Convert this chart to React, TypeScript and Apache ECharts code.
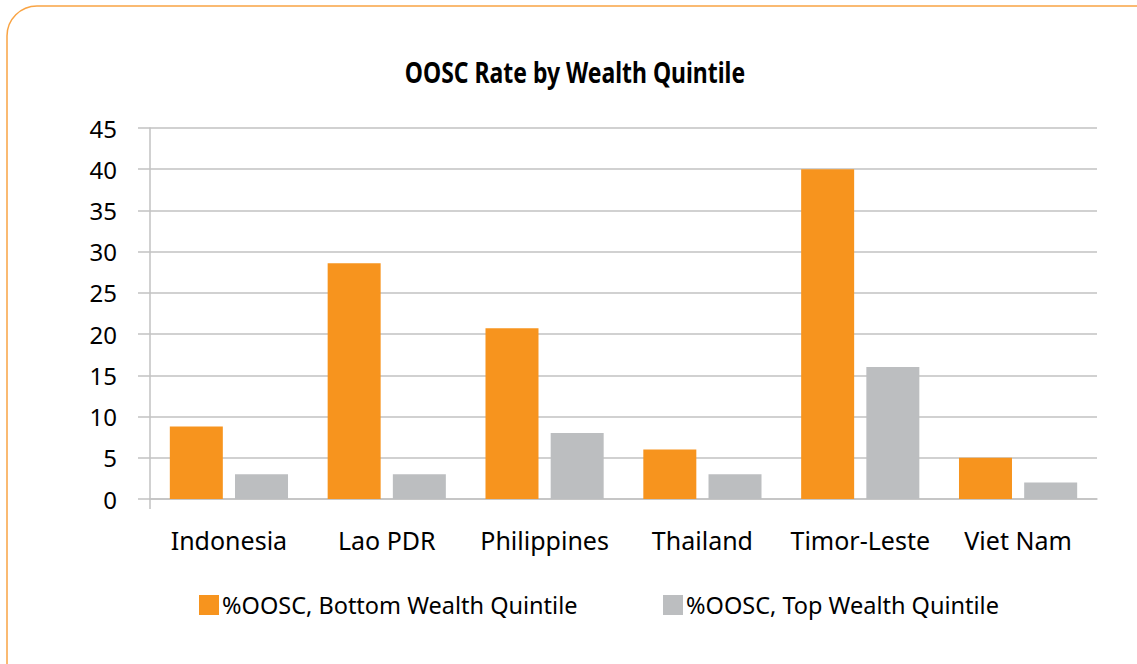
import React, { useEffect, useRef } from "react";
import * as echarts from "echarts";

const categories = ["Indonesia", "Lao PDR", "Philippines", "Thailand", "Timor-Leste", "Viet Nam"];
const bottomQuintile = [8.8, 28.6, 20.7, 6, 40, 5];
const topQuintile = [3, 3, 8, 3, 16, 2];
const seriesNames = ["%OOSC, Bottom Wealth Quintile", "%OOSC, Top Wealth Quintile"];
const titleText = "OOSC Rate by Wealth Quintile";

const ORANGE = "#F7941E";
const GRAY = "#BCBEC0";
const GRID = "#C2C2C2";
const FONT = "'Noto Sans', 'Open Sans', sans-serif";

export default function App() {
  const ref = useRef<HTMLDivElement>(null);
  useEffect(() => {
    if (!ref.current) return;
    const chart = echarts.init(ref.current, null, { renderer: "svg" });
    chart.setOption({
      animation: false,
      backgroundColor: "#ffffff",
      graphic: [
        {
          type: "rect",
          shape: { x: 7, y: 6, width: 1160, height: 720, r: 30 },
          style: { fill: "none", stroke: "#F9A444", lineWidth: 1.5 },
          silent: true,
        },
        {
          type: "line",
          shape: { x1: 150, y1: 499, x2: 150, y2: 509 },
          style: { stroke: GRID, lineWidth: 1.5 },
          silent: true,
        },
        {
          type: "text",
          x: 575,
          y: 73,
          scaleX: 0.82,
          style: {
            text: titleText,
            x: 0,
            y: 0,
            textAlign: "center",
            textVerticalAlign: "middle",
            font: "bold 28px 'Noto Sans', sans-serif",
            fill: "#000",
          },
        },
      ],
      legend: [
        {
          left: 199,
          top: 593,
          padding: 0,
          itemWidth: 20,
          itemHeight: 20,
          icon: "rect",
          data: [seriesNames[0]],
          textStyle: { fontFamily: FONT, fontSize: 23.5, color: "#000", padding: [0, 0, 0, -2] },
        },
        {
          left: 663,
          top: 593,
          padding: 0,
          itemWidth: 20,
          itemHeight: 20,
          icon: "rect",
          data: [seriesNames[1]],
          textStyle: { fontFamily: FONT, fontSize: 23.5, color: "#000", padding: [0, 0, 0, -2] },
        },
      ],
      grid: { left: 150, right: 40, top: 128, bottom: 165, containLabel: false },
      xAxis: {
        type: "category",
        data: categories,
        axisLine: { show: true, lineStyle: { color: GRID, width: 1.5 } },
        axisTick: { show: false },
        axisLabel: { fontFamily: FONT, fontSize: 25, color: "#000", margin: 28, interval: 0 },
      },
      yAxis: {
        type: "value",
        min: 0,
        max: 45,
        interval: 5,
        axisLine: { show: true, lineStyle: { color: GRID, width: 1.5 } },
        axisTick: { show: true, length: 12, lineStyle: { color: GRID, width: 1.5 } },
        splitLine: { show: true, lineStyle: { color: GRID, width: 1.5 } },
        axisLabel: { fontFamily: FONT, fontSize: 24, color: "#000", margin: 33 },
      },
      series: [
        {
          name: seriesNames[0],
          type: "bar",
          data: bottomQuintile,
          barWidth: 53,
          barGap: "23%",
          itemStyle: { color: ORANGE },
        },
        {
          name: seriesNames[1],
          type: "bar",
          data: topQuintile,
          barWidth: 53,
          barGap: "23%",
          itemStyle: { color: GRAY },
        },
      ],
    });
    return () => chart.dispose();
  }, []);
  return (
    <div
      ref={ref}
      style={{ position: "fixed", left: 0, top: 0, width: 1137, height: 664 }}
    />
  );
}
